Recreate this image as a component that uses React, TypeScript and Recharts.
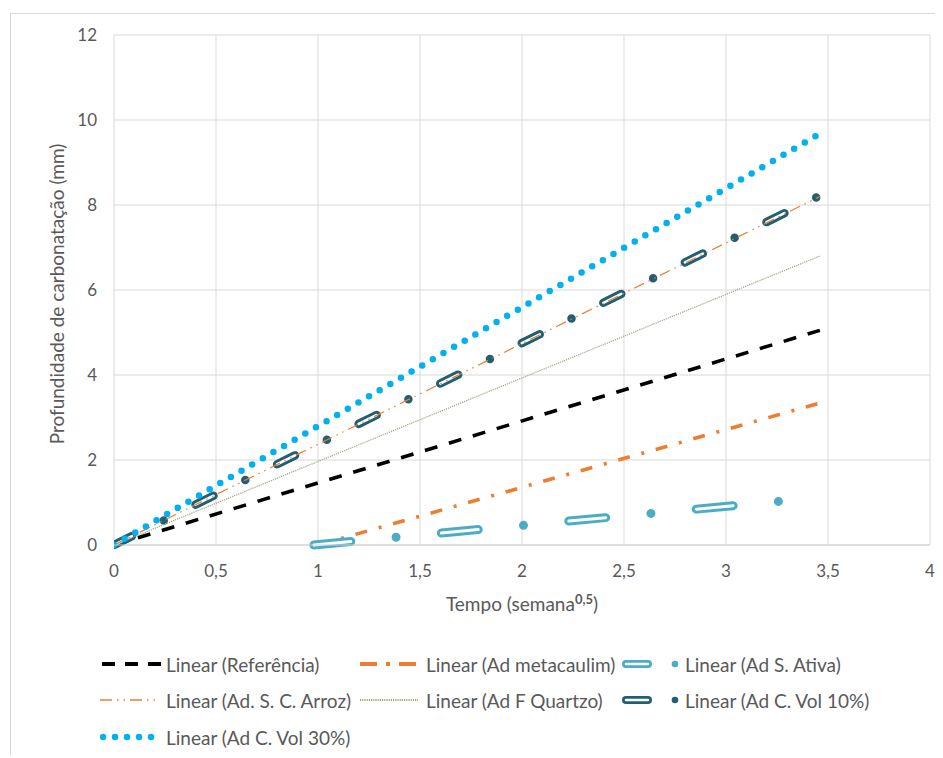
import { CartesianGrid, Line, LineChart, XAxis, YAxis } from 'recharts';

// tempo (semana^0,5) e profundidade (mm) nos extremos de cada linha de tendência
const tempoRef = [0, 3.46];
const profRef = [0, 5.05];
const tempoMeta = [1.0, 3.46];
const profMeta = [0, 3.34];
const tempoAtiva = [0.98, 3.29];
const profAtiva = [0, 1.04];
const tempoArroz = [0, 3.46];
const profArroz = [0, 8.2];
const tempoQuartzo = [0, 3.46];
const profQuartzo = [0, 6.8];
const tempoVol10 = [0, 3.46];
const profVol10 = [0, 8.22];
const tempoVol30 = [0, 3.45];
const profVol30 = [0, 9.65];

const xTicks = [0, 0.5, 1, 1.5, 2, 2.5, 3, 3.5, 4];
const yTicks = [0, 2, 4, 6, 8, 10, 12];

const toPts = (xs: number[], ys: number[]) => xs.map((x, i) => ({ x, y: ys[i] }));

const TEXT = '#595959';
const FONT = 'Lato, "Open Sans", sans-serif';

function Swatch({ kind }: { kind: string }) {
    const w = 62;
    return (
        <svg width={w} height={14} style={{ display: 'block' }}>
            {kind === 'ref' && (
                <line x1={2} y1={7} x2={62} y2={7} stroke="#000" strokeWidth={4} strokeDasharray="13 10" />
            )}
            {kind === 'meta' && (
                <line x1={0} y1={7} x2={56} y2={7} stroke="#ED7D31" strokeWidth={4} strokeDasharray="17 9 4 9" />
            )}
            {kind === 'arroz' && (
                <line x1={0} y1={7} x2={58} y2={7} stroke="#ED7D31" strokeWidth={1.3} strokeDasharray="12 5 1.5 5 1.5 5" />
            )}
            {kind === 'quartzo' && (
                <line x1={0} y1={7} x2={58} y2={7} stroke="#7E9150" strokeWidth={1.3} strokeDasharray="1.2 1" />
            )}
            {kind === 'vol30' && (
                <line x1={3} y1={7} x2={60} y2={7} stroke="#00B0F0" strokeWidth={6.5} strokeLinecap="round" strokeDasharray="0 12" />
            )}
        </svg>
    );
}

function Capsule({ color }: { color: string }) {
    return (
        <svg width={59} height={14} style={{ display: 'block' }}>
            <line x1={4} y1={7} x2={26} y2={7} stroke={color} strokeWidth={8} strokeLinecap="round" />
            <line x1={4} y1={7} x2={26} y2={7} stroke="#fff" strokeWidth={2.5} strokeLinecap="round" />
            <circle cx={53} cy={7} r={3.3} fill={color} />
        </svg>
    );
}

const legendItems = [
    { label: 'Linear (Referência)', left: 89, top: 650, sw: <Swatch kind="ref" /> },
    { label: 'Linear (Ad metacaulim)', left: 349, top: 650, sw: <Swatch kind="meta" /> },
    { label: 'Linear (Ad S. Ativa)', left: 611, top: 650, sw: <Capsule color="#4BACC6" /> },
    { label: 'Linear (Ad. S. C. Arroz)', left: 89, top: 686, sw: <Swatch kind="arroz" /> },
    { label: 'Linear (Ad F Quartzo)', left: 349, top: 686, sw: <Swatch kind="quartzo" /> },
    { label: 'Linear (Ad C. Vol 10%)', left: 611, top: 686, sw: <Capsule color="#215F72" /> },
    { label: 'Linear (Ad C. Vol 30%)', left: 89, top: 723, sw: <Swatch kind="vol30" /> },
];

export default function App() {
    const common = { type: 'linear' as const, dataKey: 'y', dot: false, activeDot: false, isAnimationActive: false, legendType: 'none' as const };
    return (
        <div
            style={{
                position: 'relative',
                left: 2,
                top: 5,
                width: 929,
                height: 745,
                border: '1px solid #d9d9d9',
                background: '#fff',
                fontFamily: FONT,
            }}
        >
            <LineChart width={929} height={600} margin={{ top: 21, right: 10, left: 0, bottom: 0 }}>
                <CartesianGrid stroke="#d9d9d9" strokeWidth={1} />
                <XAxis
                    dataKey="x"
                    type="number"
                    domain={[0, 4]}
                    ticks={xTicks}
                    height={69}
                    tickLine={false}
                    tickSize={0}
                    tickMargin={20}
                    axisLine={{ stroke: '#d0d0d0' }}
                    tickFormatter={(v: number) => String(v).replace('.', ',')}
                    tick={{ fill: TEXT, fontSize: 17, fontFamily: FONT }}
                    allowDataOverflow
                    label={{
                        content: () => (
                            <text x={511} y={597} textAnchor="middle" fill={TEXT} fontSize={19} fontFamily={FONT}>
                                Tempo (semana
                                <tspan fontSize={13} fontWeight="bold" dy={-7}>0,5</tspan>
                                <tspan dy={7}>)</tspan>
                            </text>
                        ),
                    }}
                />
                <YAxis
                    type="number"
                    domain={[0, 12]}
                    ticks={yTicks}
                    width={103}
                    tickLine={false}
                    axisLine={false}
                    tickSize={0}
                    tickMargin={17}
                    tick={{ fill: TEXT, fontSize: 17, fontFamily: FONT }}
                    label={{
                        content: () => (
                            <text
                                x={45}
                                y={280}
                                transform="rotate(-90 45 280)"
                                textAnchor="middle"
                                dominantBaseline="central"
                                fill={TEXT}
                                fontSize={19}
                                fontFamily={FONT}
                            >
                                Profundidade de carbonatação (mm)
                            </text>
                        ),
                    }}
                />
                <Line {...common} data={toPts(tempoRef, profRef)} stroke="#000" strokeWidth={3.6} strokeDasharray="13 12" />
                <Line {...common} data={toPts(tempoMeta, profMeta)} stroke="#ED7D31" strokeWidth={3.6} strokeDasharray="12 12 3 12" />
                <Line
                    {...common}
                    data={toPts(tempoAtiva, profAtiva)}
                    stroke="#4BACC6"
                    strokeWidth={9}
                    strokeLinecap="round"
                    strokeDasharray="37 45.5 0 45.5"
                />
                <Line
                    {...common}
                    data={toPts(tempoAtiva, profAtiva)}
                    stroke="#fff"
                    strokeWidth={3}
                    strokeLinecap="round"
                    strokeDasharray="37 91"
                />
                <Line
                    {...common}
                    data={toPts(tempoVol10, profVol10)}
                    stroke="#215F72"
                    strokeWidth={8.5}
                    strokeLinecap="round"
                    strokeDasharray="20 35.5 0 35.5"
                />
                <Line
                    {...common}
                    data={toPts(tempoVol10, profVol10)}
                    stroke="#fff"
                    strokeWidth={2.6}
                    strokeLinecap="round"
                    strokeDasharray="20 71"
                />
                <Line {...common} data={toPts(tempoArroz, profArroz)} stroke="#ED7D31" strokeWidth={1.2} strokeDasharray="11 5 1.5 5 1.5 5" />
                <Line {...common} data={toPts(tempoQuartzo, profQuartzo)} stroke="#A3A88A" strokeWidth={1.3} strokeDasharray="1.2 1" />
                <Line
                    {...common}
                    data={toPts(tempoVol30, profVol30)}
                    stroke="#00B0F0"
                    strokeWidth={6.5}
                    strokeLinecap="round"
                    strokeDasharray="0 12.3"
                />
            </LineChart>
            {legendItems.map((it) => (
                <div
                    key={it.label}
                    style={{
                        position: 'absolute',
                        left: it.left,
                        top: it.top - 11,
                        height: 22,
                        display: 'flex',
                        alignItems: 'center',
                        whiteSpace: 'nowrap',
                        color: TEXT,
                        fontSize: 19,
                    }}
                >
                    {it.sw}
                    <span style={{ marginLeft: 4 }}>{it.label}</span>
                </div>
            ))}
        </div>
    );
}
